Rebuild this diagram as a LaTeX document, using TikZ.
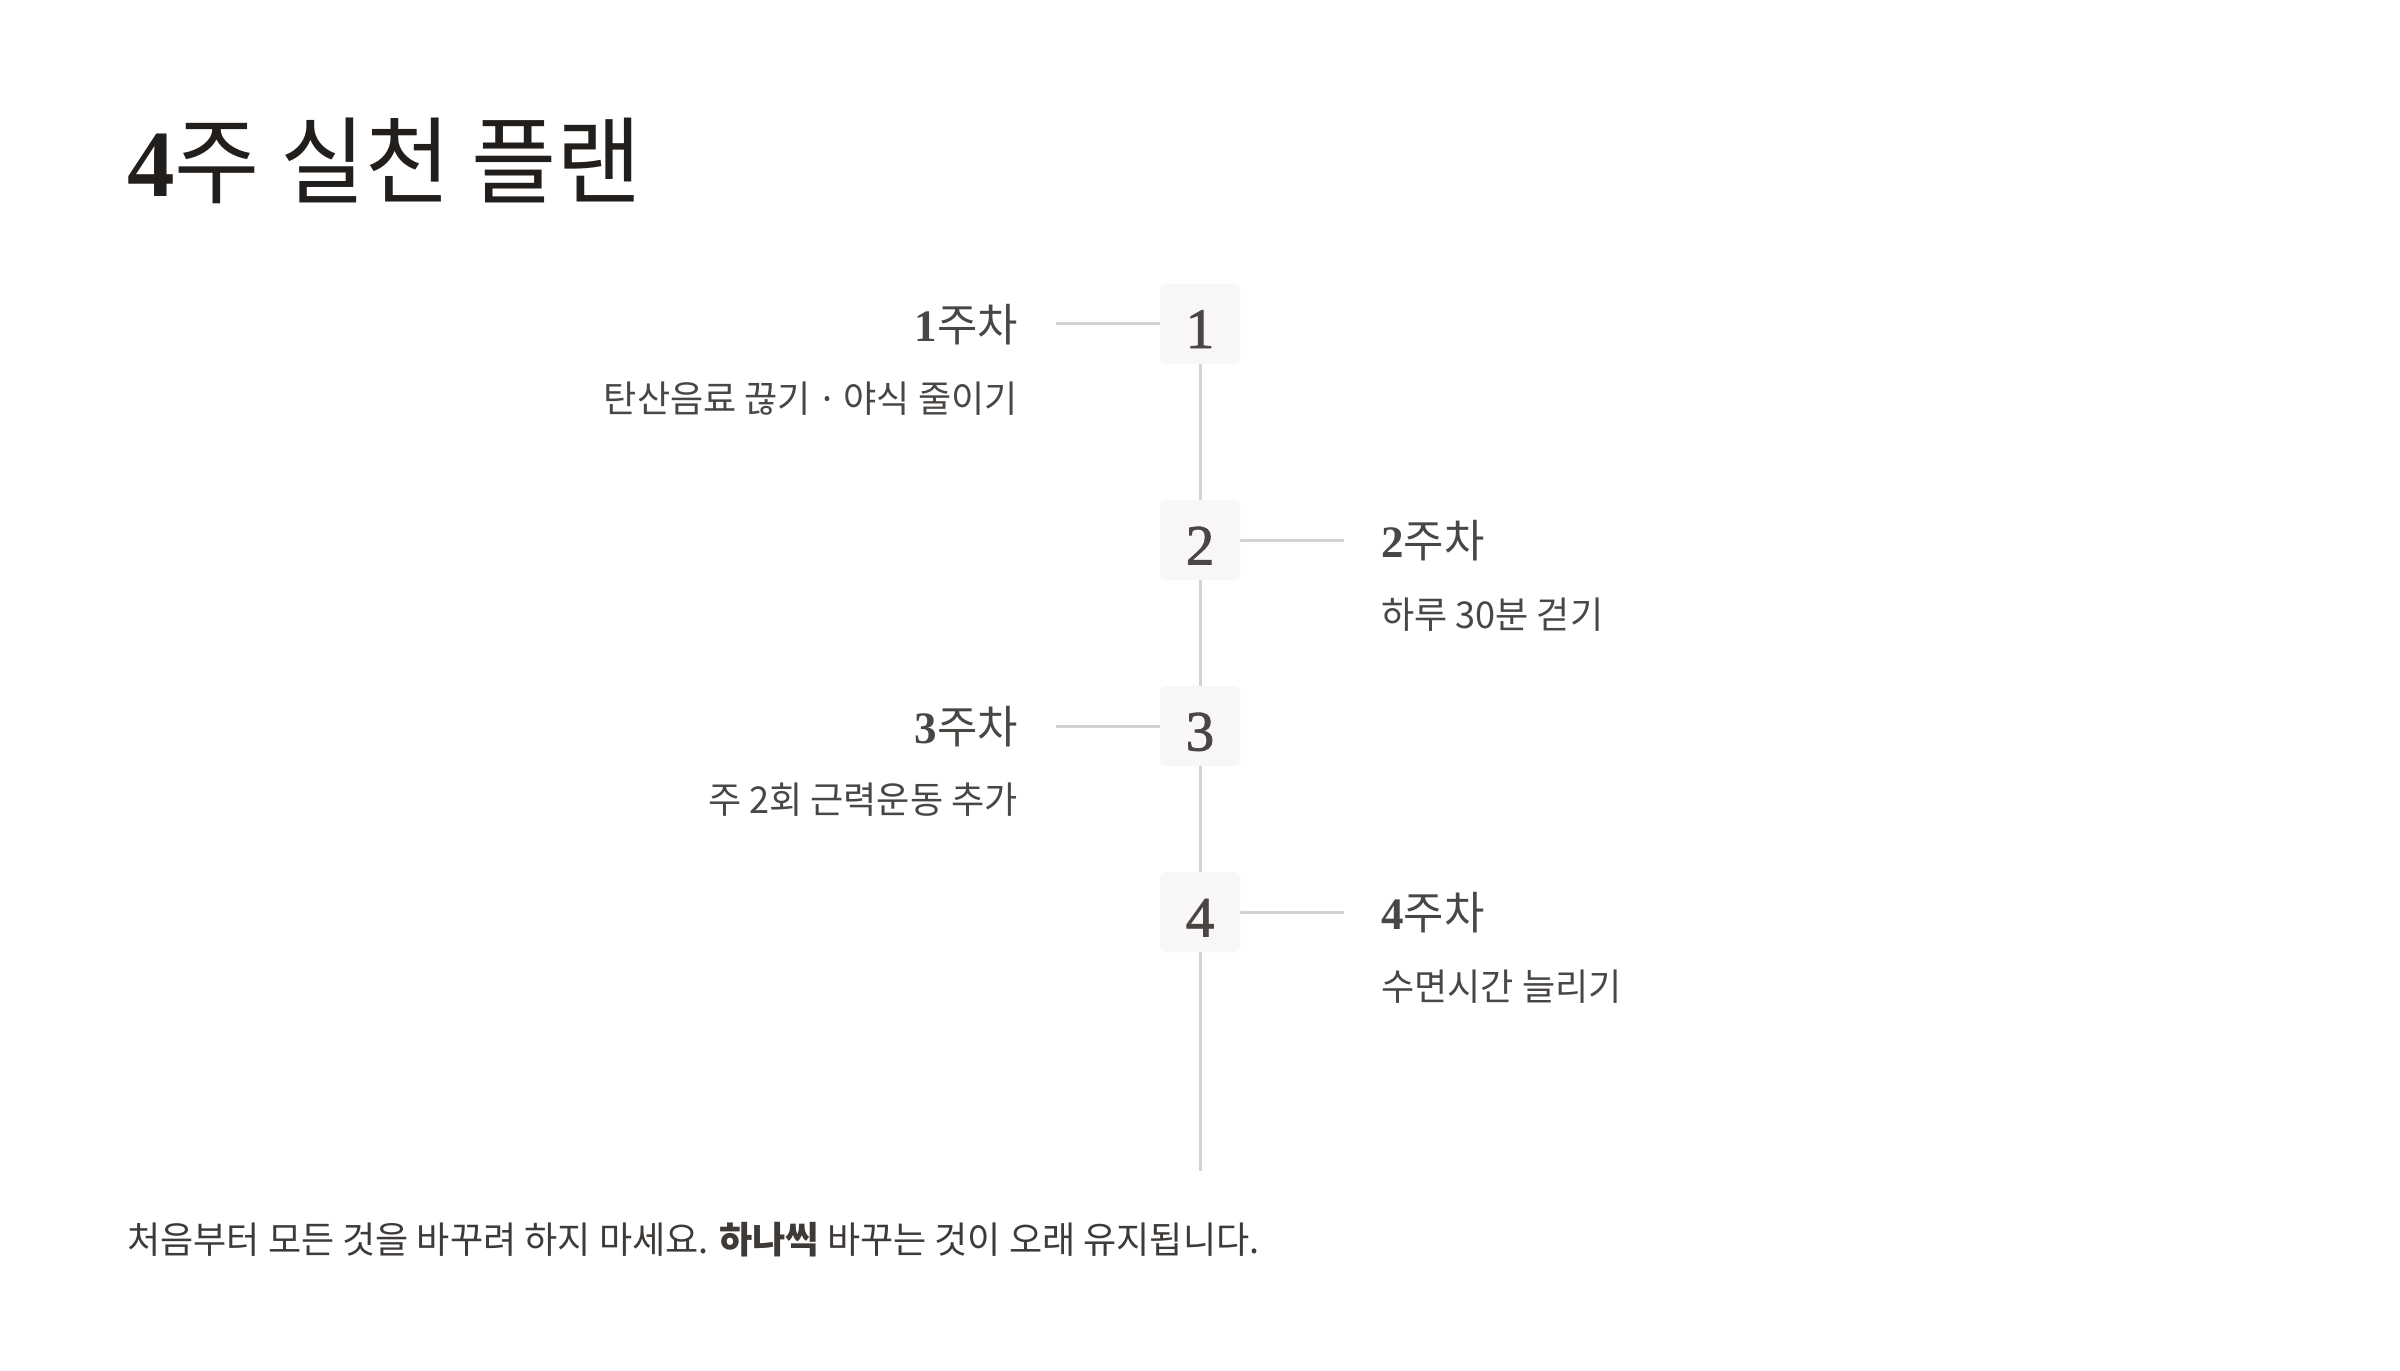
\documentclass[tikz,border=0pt]{standalone}
\usepackage{fontspec}
\setmainfont{Noto Sans CJK KR}[FakeStretch=0.975]
\newfontfamily\numfont{Liberation Serif}
\newfontfamily\boxnumfont{Liberation Serif}[FakeBold=1.5]
\definecolor{linegray}{HTML}{D5D1D0}
\definecolor{boxfill}{HTML}{F8F6F6}
\definecolor{txtgray}{HTML}{4A4644}
\definecolor{titlecol}{HTML}{221E1C}
\definecolor{footcol}{HTML}{3E3A38}
\tikzset{
  numbox/.style={minimum width=80pt, minimum height=80pt, inner sep=0pt, fill=boxfill, rounded corners=5pt},
  numtxt/.style={inner sep=0pt, text=txtgray, font=\boxnumfont\fontsize{57}{57}\selectfont},
  wklabel/.style={inner sep=0pt, text=txtgray, font=\fontsize{45}{45}\selectfont},
  wkdesc/.style={inner sep=0pt, text=txtgray, font=\fontsize{37}{37}\selectfont},
  conn/.style={draw=linegray, line width=3pt},
}
\newcommand{\dg}[1]{{\numfont\bfseries #1}}
\begin{document}
\begin{tikzpicture}[x=1pt,y=-1pt]
\useasboundingbox[fill=white] (0,0) rectangle (2400,1370);
% title
\node[inner sep=0pt, anchor=base west, text=titlecol, font=\fontsize{95}{95}\selectfont] (title) at (127,196) {\dg{4}주 실천 플랜};
% boxes
\node[numbox] (b1) at (1200,323.5) {};
\node[numbox] (b2) at (1200,540) {};
\node[numbox] (b3) at (1200,726) {};
\node[numbox] (b4) at (1200,912) {};
\node[numtxt, anchor=base] (n1) at (1200,348) {1};
\node[numtxt, anchor=base] (n2) at (1200,564.5) {2};
\node[numtxt, anchor=base] (n3) at (1200,750.5) {3};
\node[numtxt, anchor=base] (n4) at (1200,936.5) {4};
% vertical line
\coordinate (vend) at (1200,1171);
\draw[conn] (b1.south) -- (b2.north);
\draw[conn] (b2.south) -- (b3.north);
\draw[conn] (b3.south) -- (b4.north);
\draw[conn] (b4.south) -- (vend);
% connectors
\coordinate (c1) at (1056,323.5);
\coordinate (c2) at (1344,540);
\coordinate (c3) at (1056,726);
\coordinate (c4) at (1344,912);
\draw[conn] (c1) -- (b1.west);
\draw[conn] (b2.east) -- (c2);
\draw[conn] (c3) -- (b3.west);
\draw[conn] (b4.east) -- (c4);
% labels
\node[wklabel, anchor=base east] (l1) at (1018,341) {\dg{1}주차};
\node[wkdesc, anchor=base east] (d1) at (1018,412) {탄산음료 끊기\,·\,야식 줄이기};
\node[wklabel, anchor=base west] (l2) at (1381,557) {\dg{2}주차};
\node[wkdesc, anchor=base west] (d2) at (1381,628) {하루 30분 걷기};
\node[wklabel, anchor=base east] (l3) at (1018,743) {\dg{3}주차};
\node[wkdesc, anchor=base east] (d3) at (1018,813) {주 2회 근력운동 추가};
\node[wklabel, anchor=base west] (l4) at (1381,929) {\dg{4}주차};
\node[wkdesc, anchor=base west] (d4) at (1381,1000) {수면시간 늘리기};
% footer
\node[inner sep=0pt, anchor=base west, text=footcol, font=\fontsize{37}{37}\selectfont] (foot) at (127,1253) {처음부터 모든 것을 바꾸려 하지 마세요. \textbf{하나씩} 바꾸는 것이 오래 유지됩니다.};
\end{tikzpicture}
\end{document}
